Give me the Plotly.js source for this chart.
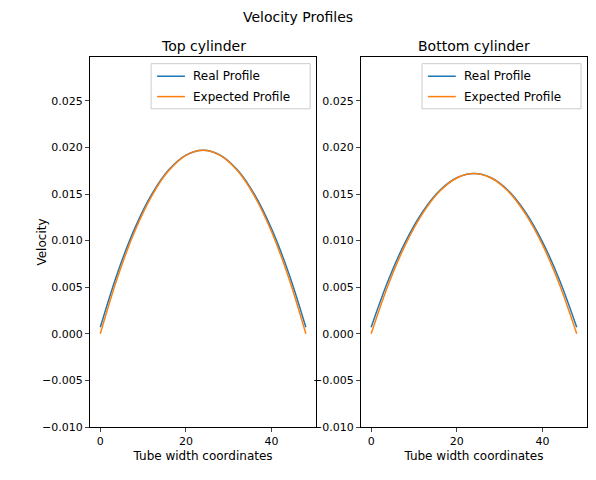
<!DOCTYPE html>
<html>
<head>
<script src="https://cdn.plot.ly/plotly-3.0.1.min.js"></script>
<style>body{margin:0}</style>
</head>
<body>
<div id="chart" style="width:596px;height:480px"></div>
<script>
var xs = [0, 4, 8, 12, 16, 20, 24, 28, 32, 36, 40, 44, 48]
var topReal = [0.0007, 0.00651, 0.01126, 0.01495, 0.01759, 0.01917, 0.0197, 0.01917, 0.01759, 0.01495, 0.01126, 0.00651, 0.0007]
var topExpected = [0, 0.00602, 0.01095, 0.01478, 0.01751, 0.01915, 0.0197, 0.01915, 0.01751, 0.01478, 0.01095, 0.00602, 0]
var botReal = [0.0007, 0.00575, 0.00987, 0.01308, 0.01537, 0.01674, 0.0172, 0.01674, 0.01537, 0.01308, 0.00987, 0.00575, 0.0007]
var botExpected = [0, 0.00526, 0.00956, 0.0129, 0.01529, 0.01672, 0.0172, 0.01672, 0.01529, 0.0129, 0.00956, 0.00526, 0]

var blue = '#1f77b4', orange = '#ff7f0e'
function tr(y, name, color, ax) {
  return { x: xs, y: y, name: name, mode: 'lines', line: { color: color, width: 1.5, shape: 'spline' },
    xaxis: 'x' + ax, yaxis: 'y' + ax }
}
var data = [
  tr(topReal, 'Real Profile', blue, ''),
  tr(topExpected, 'Expected Profile', orange, ''),
  tr(botReal, 'Real Profile', blue, '2'),
  tr(botExpected, 'Expected Profile', orange, '2')
]
var axx = { range: [-2.4, 50.4], tickvals: [0, 20, 40], showgrid: false, zeroline: false, showline: true, mirror: true,
  linecolor: '#000', ticks: 'outside', ticklen: 4, title: { text: 'Tube width coordinates', font: { size: 12 }, standoff: 4 } }
var axy = { range: [-0.01, 0.0297], tickvals: [-0.01, -0.005, 0, 0.005, 0.01, 0.015, 0.02, 0.025], tickformat: '.3f',
  showgrid: false, zeroline: false, showline: true, mirror: true, linecolor: '#000', ticks: 'outside', ticklen: 4 }
var layout = {
  width: 596, height: 480, margin: { l: 90, r: 9, t: 57, b: 53 },
  font: { family: 'DejaVu Sans', size: 11, color: '#000' },
  paper_bgcolor: '#fff', plot_bgcolor: '#fff',
  title: { text: 'Velocity Profiles', x: 0.5, y: 0.975, font: { size: 14 } },
  xaxis: Object.assign({}, axx, { domain: [0, 0.455] }),
  yaxis: Object.assign({}, axy, { title: { text: 'Velocity', font: { size: 12 } } }),
  xaxis2: Object.assign({}, axx, { domain: [0.545, 1], anchor: 'y2' }),
  yaxis2: Object.assign({}, axy, { anchor: 'x2' }),
  showlegend: false,
  shapes: [],
  annotations: [
    { text: 'Top cylinder', xref: 'paper', yref: 'paper', x: 0.2275, y: 1, xanchor: 'center', yanchor: 'bottom', yshift: 1, showarrow: false, font: { size: 14 } },
    { text: 'Bottom cylinder', xref: 'paper', yref: 'paper', x: 0.7725, y: 1, xanchor: 'center', yanchor: 'bottom', yshift: 1, showarrow: false, font: { size: 14 } }
  ]
}
// one legend box per panel
;[0.455, 1].forEach(function (xr) {
  var x0 = xr - 0.332, x1 = xr - 0.012
  layout.shapes.push(
    { type: 'rect', xref: 'paper', yref: 'paper', x0: x0, x1: x1, y0: 0.86, y1: 0.982, line: { color: '#ccc', width: 1 }, fillcolor: 'rgba(255,255,255,0.8)' },
    { type: 'line', xref: 'paper', yref: 'paper', x0: x0 + 0.012, x1: x0 + 0.068, y0: 0.948, y1: 0.948, line: { color: blue, width: 1.5 } },
    { type: 'line', xref: 'paper', yref: 'paper', x0: x0 + 0.012, x1: x0 + 0.068, y0: 0.893, y1: 0.893, line: { color: orange, width: 1.5 } }
  )
  layout.annotations.push(
    { text: 'Real Profile', xref: 'paper', yref: 'paper', x: x0 + 0.08, y: 0.948, xanchor: 'left', yanchor: 'middle', showarrow: false, font: { size: 12 } },
    { text: 'Expected Profile', xref: 'paper', yref: 'paper', x: x0 + 0.08, y: 0.893, xanchor: 'left', yanchor: 'middle', showarrow: false, font: { size: 12 } }
  )
})
Plotly.newPlot('chart', data, layout, { displayModeBar: false })
</script>
</body>
</html>
